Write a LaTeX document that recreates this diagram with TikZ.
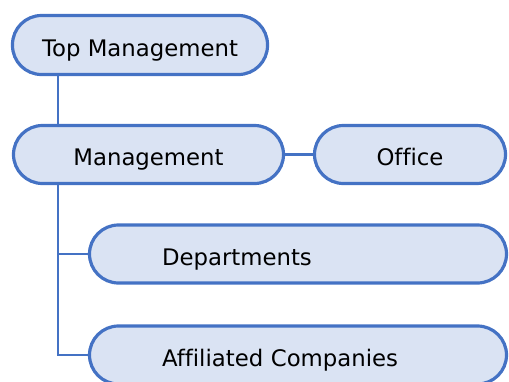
\documentclass[tikz,border=0pt]{standalone}
\usepackage{fontspec}
\setmainfont{DejaVu Sans}[Ligatures=NoCommon]
\definecolor{boxfill}{HTML}{DAE3F3}
\definecolor{boxline}{HTML}{4472C4}
\begin{document}
\begin{tikzpicture}[x=1pt,y=-1pt,
  orgbox/.style={draw=boxline, fill=boxfill, line width=3.2pt, rounded corners=29pt,
    minimum height=58pt, text height=22pt, text depth=0pt, inner sep=0pt,
    font=\fontsize{22.8}{27}\selectfont},
  leftbox/.style={orgbox, text width=272pt, align=left, inner xsep=72.5pt},
  link/.style={draw=boxline, line width=2.2pt}]
\clip (0,0) rectangle (509,381);
\useasboundingbox (0,0) rectangle (509,381);
\node[orgbox, minimum width=255pt, minimum height=59pt] (top) at (140,45) {Top Management};
\node[orgbox, minimum width=270pt] (mgmt) at (148.5,154.5) {Management};
\node[orgbox, minimum width=191pt] (office) at (410,154.5) {Office};
\node[leftbox] (dept) at (298,254) {Departments};
\node[leftbox] (aff) at (298,355) {Affiliated Companies};
\coordinate (trunk) at (58,0);
\draw[link] (top.south -| trunk) -- (mgmt.north -| trunk);
\draw[link] (mgmt.east) -- (office.west);
\draw[link] (mgmt.south -| trunk) |- (dept.west);
\draw[link] (mgmt.south -| trunk) |- (aff.west);
\end{tikzpicture}
\end{document}
